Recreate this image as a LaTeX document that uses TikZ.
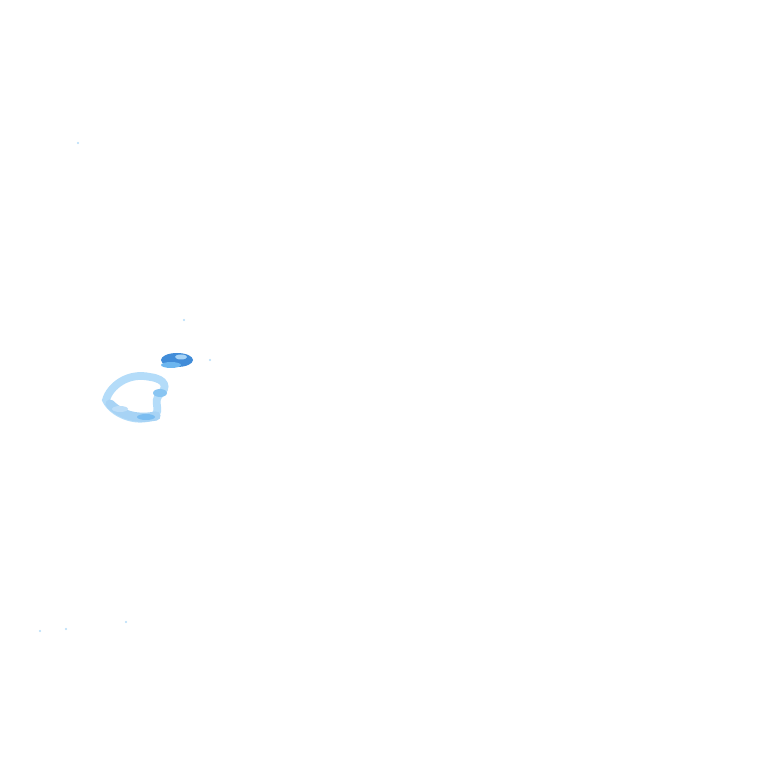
\documentclass[tikz,border=0pt]{standalone}
\usepackage{tikz}

\definecolor{hellblau}{HTML}{B4DCF9}
\definecolor{mittelblau}{HTML}{6CB6EF}
\definecolor{dunkelblau}{HTML}{1F78D1}

\tikzset{
    fleck/.style={fill=hellblau, draw=none},
    ring/.style={draw=hellblau, line width=2.2pt, line cap=round}
}

\begin{document}
\begin{tikzpicture}[x=0.01cm, y=-0.01cm]
        % Rahmen
        \useasboundingbox (0,0) rectangle (768,768);
        \fill[white] (0,0) rectangle (768,768);

        % grosser Ring
        \draw[ring] (150,377) .. controls (128,372) and (110,386) .. (106,400)
            .. controls (112,413) and (135,424) .. (154,416)
            .. controls (162,410) and (152,402) .. (160,394)
            .. controls (168,388) and (166,379) .. (150,377);
        \draw[ring, draw=mittelblau!60, line width=2.6pt] (110,404) .. controls (120,414) and (135,420) .. (156,416);
        \fill[mittelblau!80] (160,393) ellipse (7 and 4);
        \fill[mittelblau!90] (146,417) ellipse (9 and 3);
        \fill[mittelblau!45] (120,409) ellipse (8 and 3);

        % kleiner Fleck oben
        \fill[dunkelblau!85] (177,360) ellipse (16 and 7);
        \fill[mittelblau] (171,365) ellipse (10 and 3);
        \fill[mittelblau!60] (181,357) ellipse (6 and 2.5);

        % Pünktchen
        \foreach \x/\y in {78/143, 184/320, 210/360, 40/631, 66/629, 126/622} {
            \fill[fleck] (\x,\y) circle (1.2); % Punkte
        }
    \end{tikzpicture}
\end{document}
